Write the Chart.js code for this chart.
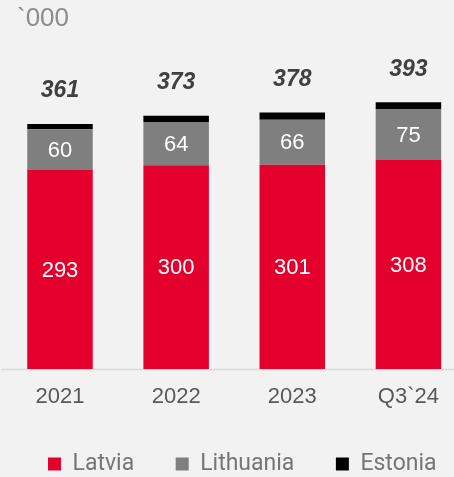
<!DOCTYPE html>
<html>
<head>
<meta charset="utf-8">
<script src="https://cdn.jsdelivr.net/npm/chart.js@4/dist/chart.umd.min.js"></script>
<style>
  html, body { margin: 0; padding: 0; background: #f2f2f2; }
  #wrap { width: 454px; height: 477px; }
</style>
</head>
<body>
<div id="wrap"><canvas id="chart" width="454" height="477"></canvas></div>
<script>
// values in thousands
const years = ['2021', '2022', '2023', 'Q3`24'];
const latvia = [293, 300, 301, 308];
const lithuania = [60, 64, 66, 75];
const estonia = [8, 9, 11, 10];
const totals = [361, 373, 378, 393];

const RED = '#e3002c';
const GREY = '#7f7f7f';

// unit label, baseline and value labels
const decorations = {
  id: 'decorations',
  beforeDatasetsDraw(chart) {
    const { ctx, chartArea } = chart;
    ctx.save();
    ctx.strokeStyle = '#d9d9d9';
    ctx.lineWidth = 1.5;
    ctx.beginPath();
    ctx.moveTo(1, chartArea.bottom + 0.5);
    ctx.lineTo(chart.width, chartArea.bottom + 0.5);
    ctx.stroke();
    ctx.restore();
  },
  afterDatasetsDraw(chart) {
    const { ctx } = chart;
    ctx.save();
    ctx.font = '26px "Liberation Sans", Arial, sans-serif';
    ctx.fillStyle = '#8c8c8c';
    ctx.textAlign = 'left';
    ctx.textBaseline = 'middle';
    ctx.fillText('`000', 17, 19);

    ctx.textAlign = 'center';
    // segment labels (Latvia, Lithuania)
    ctx.font = '22px "Liberation Sans", Arial, sans-serif';
    ctx.fillStyle = '#ffffff';
    [0, 1].forEach(di => {
      const meta = chart.getDatasetMeta(di);
      meta.data.forEach((bar, i) => {
        const v = chart.data.datasets[di].data[i];
        ctx.fillText(String(v), bar.x, (bar.y + bar.base) / 2 + 1);
      });
    });
    // totals above the stack
    const top = chart.getDatasetMeta(2);
    ctx.font = 'italic bold 23px "Liberation Sans", Arial, sans-serif';
    ctx.fillStyle = '#404040';
    top.data.forEach((bar, i) => {
      ctx.fillText(String(totals[i]), bar.x, bar.y - 33);
    });
    ctx.restore();
  }
};

new Chart(document.getElementById('chart'), {
  type: 'bar',
  data: {
    labels: years,
    datasets: [
      { label: 'Latvia', data: latvia, backgroundColor: RED, clip: false },
      { label: 'Lithuania', data: lithuania, backgroundColor: GREY, clip: false },
      { label: 'Estonia', data: estonia, backgroundColor: '#000000', clip: false }
    ]
  },
  options: {
    responsive: false,
    animation: false,
    layout: { padding: { left: 35, top: 63.5, right: 0, bottom: 0 } },
    datasets: { bar: { categoryPercentage: 1, barPercentage: 0.564 } },
    scales: {
      x: {
        stacked: true,
        offset: false,
        grid: { display: false, drawTicks: false },
        border: { display: false },
        ticks: {
          padding: 15,
          maxRotation: 0,
          color: '#595959',
          font: { family: '"Liberation Sans", Arial, sans-serif', size: 22 }
        },
        afterFit: s => { s.height = 70.5; }
      },
      y: {
        stacked: true,
        min: 0,
        max: 450,
        grid: { display: false },
        border: { display: false },
        ticks: { display: false },
        afterFit: s => { s.width = 25; }
      },
      yRight: {
        position: 'right',
        min: 0,
        max: 1,
        grid: { display: false },
        border: { display: false },
        ticks: { display: false },
        afterFit: s => { s.width = 43; }
      }
    },
    plugins: {
      tooltip: { enabled: false },
      legend: {
        position: 'bottom',
        align: 'start',
        maxHeight: 37.5,
        labels: {
          boxWidth: 13,
          boxHeight: 13,
          padding: 13,
          color: '#767676',
          font: { family: 'Roboto, "Liberation Sans", sans-serif', size: 23 },
          // trailing spaces widen the gap between items without wrapping
          generateLabels(chart) {
            const items = Chart.defaults.plugins.legend.labels.generateLabels(chart);
            items.forEach((it, i) => {
              if (i < items.length - 1) it.text = it.text + '     ';
            });
            return items;
          }
        }
      }
    }
  },
  plugins: [decorations]
});
</script>
</body>
</html>
